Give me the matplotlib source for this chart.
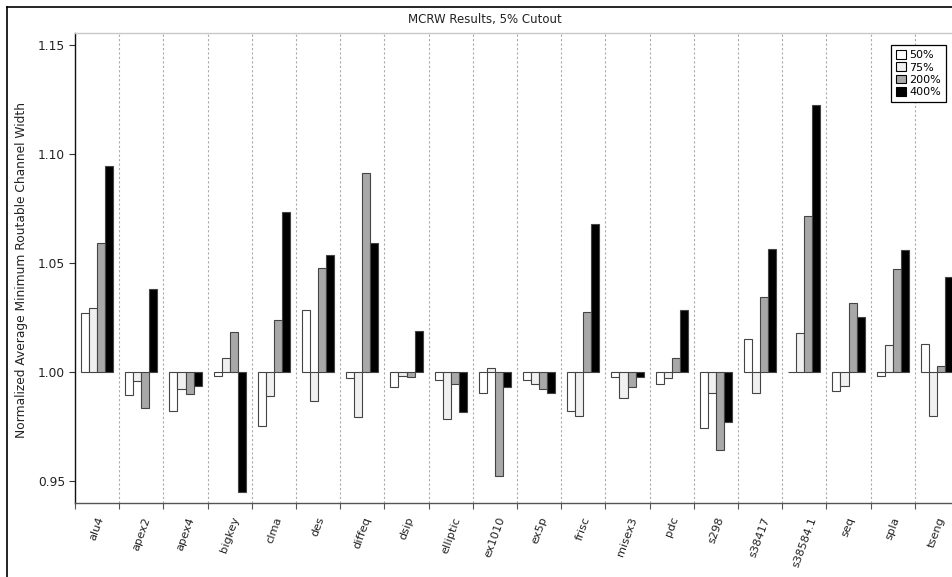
import numpy as np
import matplotlib
matplotlib.use("Agg")
from matplotlib import pyplot as plt
from matplotlib.lines import Line2D

circuits = ["alu4", "apex2", "apex4", "bigkey", "clma", "des", "diffeq", "dsip",
            "elliptic", "ex1010", "ex5p", "frisc", "misex3", "pdc", "s298",
            "s38417", "s38584.1", "seq", "spla", "tseng"]

series = ["50%", "75%", "200%", "400%"]

w50 = [1.0270, 0.9895, 0.9821, 0.9983, 0.9753, 1.0285, 0.9974, 0.9931, 0.9966, 0.9905,
       0.9963, 0.9823, 0.9978, 0.9945, 0.9743, 1.0151, 1.0000, 0.9913, 0.9983, 1.0128]
w75 = [1.0294, 0.9962, 0.9923, 1.0064, 0.9891, 0.9869, 0.9795, 0.9982, 0.9788, 1.0018,
       0.9945, 0.9800, 0.9884, 0.9975, 0.9905, 0.9905, 1.0181, 0.9937, 1.0124, 0.9798]
w200 = [1.0591, 0.9835, 0.9901, 1.0185, 1.0238, 1.0479, 1.0911, 0.9980, 0.9948, 0.9525,
        0.9923, 1.0278, 0.9933, 1.0064, 0.9644, 1.0343, 1.0714, 1.0317, 1.0473, 1.0027]
w400 = [1.0943, 1.0383, 0.9939, 0.9453, 1.0734, 1.0536, 1.0592, 1.0191, 0.9820, 0.9934,
        0.9904, 1.0681, 0.9978, 1.0287, 0.9772, 1.0566, 1.1226, 1.0252, 1.0562, 1.0435]

colors = ["#ffffff", "#f0f0f0", "#a8a8a8", "#000000"]

W, H = 953, 577
fig = plt.figure(figsize=(W / 100, H / 100), dpi=100)
fig.patch.set_facecolor("white")

# plot area runs a little past the right edge of the canvas
ax = fig.add_axes([75 / W, 1 - 503 / H, 884 / W, 470 / H])

x = np.arange(len(circuits))
bw = 0.181
for k, (vals, c, name) in enumerate(zip([w50, w75, w200, w400], colors, series)):
    vals = np.array(vals)
    ax.bar(x + (k - 1.5) * bw, vals - 1.0, bottom=1.0, width=bw, color=c,
           edgecolor="#444444", linewidth=0.8, label=name, zorder=3)

ax.set_xlim(-0.5, len(circuits) - 0.5)
ax.set_ylim(0.9401, 1.1554)
ax.set_yticks([0.95, 1.00, 1.05, 1.10, 1.15])
ax.set_yticklabels(["%.2f" % t for t in [0.95, 1.00, 1.05, 1.10, 1.15]], fontsize=8.8, color="#222222")
ax.tick_params(axis="y", direction="out", length=4, width=0.8, color="#333333", pad=3)

# category labels at centers, tick marks and dashed grid at boundaries
ax.set_xticks(x)
ax.set_xticklabels(circuits, rotation=70, ha="center", va="top", fontsize=8.2, color="#222222")
ax.tick_params(axis="x", which="major", length=0, pad=9)
ax.set_xticks(np.arange(-0.5, len(circuits), 1.0), minor=True)
ax.tick_params(axis="x", which="minor", direction="out", length=4, width=0.8, color="#555555")
ax.grid(True, axis="x", which="minor", linestyle=(0, (2, 2)), color="#aaaaaa", linewidth=0.8, zorder=0)
ax.grid(False, axis="y")

ax.spines["left"].set_color("#111111")
ax.spines["left"].set_linewidth(1.0)
ax.spines["bottom"].set_color("#555555")
ax.spines["bottom"].set_linewidth(1.0)
ax.spines["top"].set_color("#c8c8c8")
ax.spines["top"].set_linewidth(1.0)
ax.spines["right"].set_visible(False)

fig.text(485 / W, 1 - 20 / H, "MCRW Results, 5% Cutout", ha="center", va="center",
         fontsize=8.5, color="#222222")
fig.text(22 / W, 1 - 270 / H, "Normalized Average Minimum Routable Channel Width",
         rotation=90, ha="center", va="center", fontsize=8.8, color="#222222")

leg = ax.legend(loc="upper right", bbox_to_anchor=(946 / W, 1 - 45 / H),
                bbox_transform=fig.transFigure, fontsize=8, fancybox=False,
                framealpha=1, edgecolor="#000000", borderaxespad=0,
                handlelength=0.85, handleheight=0.85, handletextpad=0.3,
                labelspacing=0.18, borderpad=0.45)
leg.get_frame().set_linewidth(0.9)
for h in leg.legend_handles:
    h.set_edgecolor("#000000")

# outer border on the left and top
fig.add_artist(Line2D([7 / W, 7 / W], [0, 1 - 7 / H], transform=fig.transFigure,
                      color="black", linewidth=1.2))
fig.add_artist(Line2D([7 / W, 1], [1 - 7 / H, 1 - 7 / H], transform=fig.transFigure,
                      color="black", linewidth=1.2))

plt.savefig("out.png", dpi=100)
